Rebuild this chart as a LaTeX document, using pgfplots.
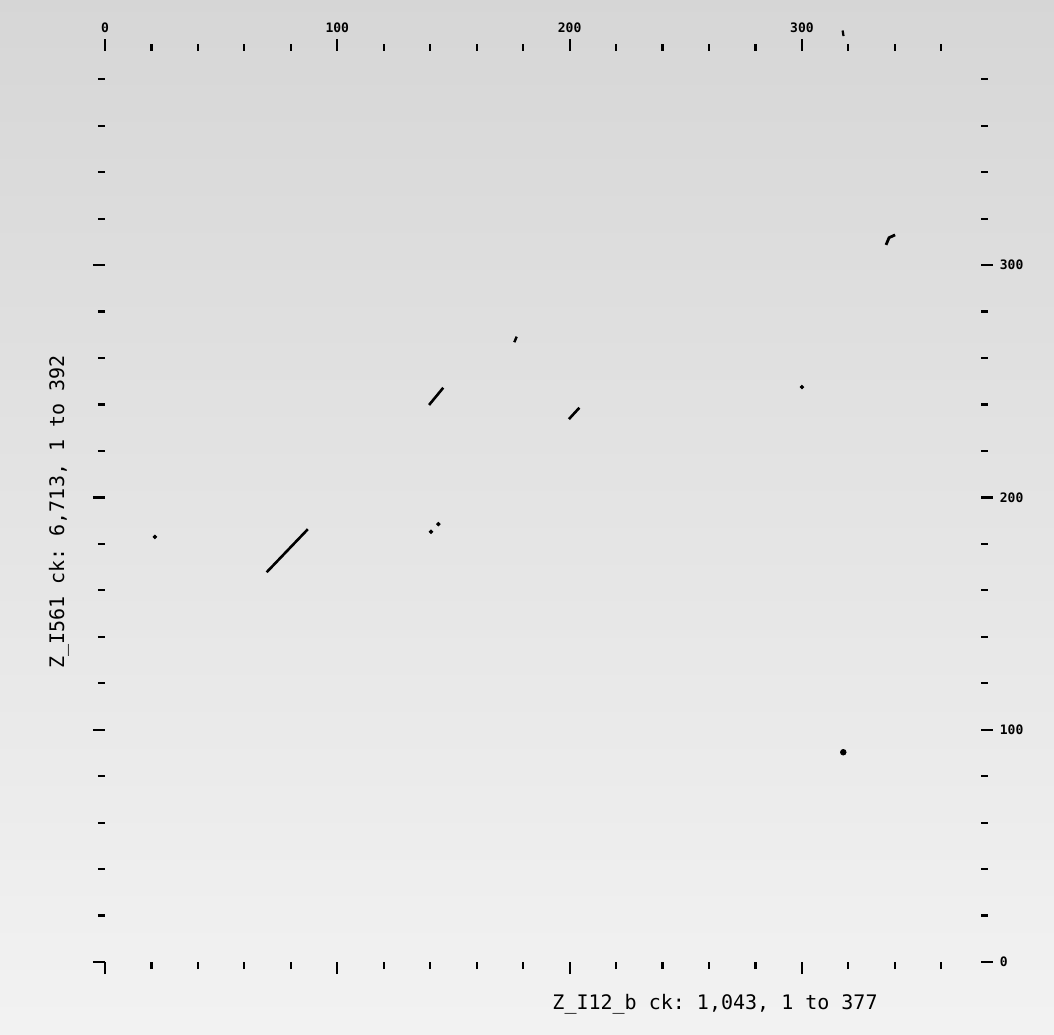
\documentclass[border=0pt]{standalone}
\usepackage{pgfplots}
\pgfplotsset{compat=1.18}
\usepackage{fontspec}
\setmonofont{DejaVu Sans Mono}
\begin{document}
\begin{tikzpicture}
\useasboundingbox (-52.5pt,-36pt) rectangle (474.5pt,481pt);
\shade[top color=black!16, middle color=black!11, bottom color=black!5] (-52.5pt,-36pt) rectangle (474.5pt,481pt);
\begin{axis}[
 scale only axis, width=437.9pt, height=455.3pt,
 xmin=0, xmax=377, ymin=0, ymax=392,
 enlargelimits=false,
 separate axis lines,
 axis line style={draw=none},
 tick align=outside,
 xtick={0,100,200,300}, minor xtick={20,40,...,360},
 ytick={0,100,200,300}, minor ytick={20,40,...,380},
 major tick length=6pt, minor tick length=3.5pt,
 tick style={black, line width=1.1pt},
 xticklabel pos=top, yticklabel pos=right,
 ticklabel style={font=\ttfamily\bfseries\fontsize{6.5}{7}\selectfont},
 /pgf/number format/assume math mode=true,
 clip=false,
 xlabel={Z\_I12\_b ck: 1,043, 1 to 377},
 ylabel={Z\_I561 ck: 6,713, 1 to 392},
 x label style={at={(axis cs:262.6,-18.1)}, anchor=center, font=\ttfamily\fontsize{10}{12}\selectfont},
 y label style={at={(axis cs:-19.8,193.7)}, anchor=center, font=\ttfamily\fontsize{10}{12}\selectfont},
]
\addplot[black, line width=1.3pt] coordinates {(69.6,167.8) (87.3,186.3)};
\addplot[black, line width=1.3pt] coordinates {(139.5,239.8) (142.3,243.2) (142.8,243.8) (145.6,247.2)};
\addplot[black, line width=1.3pt] coordinates {(199.7,233.7) (204.2,238.6)};
\addplot[black, line width=1.2pt] coordinates {(176.2,266.8) (177.2,269.2)};
\addplot[black, line width=1.4pt] coordinates {(336.2,308.7) (337.5,311.8) (340.1,313)};
\addplot[black, line width=1.1pt] coordinates {(317.5,401) (317.9,398.6)};
\addplot[only marks, mark=*, mark size=0.9pt, black] coordinates {(143.5,188.5) (140.3,185.2) (21.5,183) (300,247.5)};
\addplot[only marks, mark=*, mark size=1.4pt, black] coordinates {(317.8,90.3)};
\end{axis}
\end{tikzpicture}
\end{document}
